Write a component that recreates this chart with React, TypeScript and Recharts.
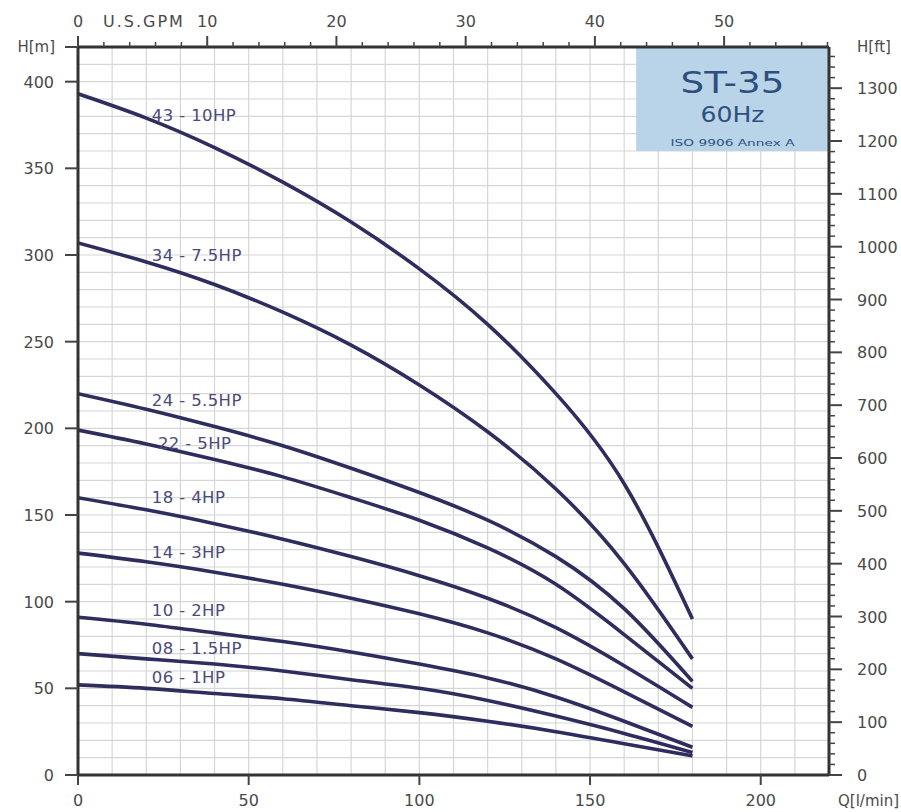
import React from 'react';
import {
  LineChart,
  Line,
  XAxis,
  YAxis,
  CartesianGrid,
  ReferenceArea,
  ReferenceDot,
} from 'recharts';

// Q [l/min] sample points
const flow = [0, 20, 40, 60, 80, 100, 120, 140, 160, 180];

// H [m] for each pump model at the flows above
const st43 = [393, 379, 362, 342, 319, 292, 260, 220, 168, 90];
const st34 = [307, 296, 283, 267, 248, 225, 198, 165, 122, 67];
const st24 = [220, 211, 201, 190, 177, 163, 147, 126, 96, 54];
const st22 = [199, 191, 182, 172, 160, 147, 131, 110, 81, 50];
const st18 = [160, 153, 145, 136, 126, 115, 102, 85, 63, 39];
const st14 = [128, 123, 117, 110, 102, 93, 82, 67, 48, 28];
const st10 = [91, 87, 82, 77, 71, 64, 56, 45, 31, 16];
const st08 = [70, 67, 64, 60, 55, 50, 43, 34, 24, 13];
const st06 = [52, 50, 47, 44, 40, 36, 31, 25, 18, 11];

const curveKeys = ['st43', 'st34', 'st24', 'st22', 'st18', 'st14', 'st10', 'st08', 'st06'];
const curveHeads = [st43, st34, st24, st22, st18, st14, st10, st08, st06];
const curveNames = [
  '43 - 10HP', '34 - 7.5HP', '24 - 5.5HP', '22 - 5HP', '18 - 4HP',
  '14 - 3HP', '10 - 2HP', '08 - 1.5HP', '06 - 1HP',
];
// where each model name sits (Q, H)
const labelFlow = [21.6, 21.6, 21.6, 23.4, 21.6, 21.6, 21.6, 21.6, 21.6];
const labelHead = [381, 300, 216.5, 191.5, 160.5, 128.5, 95, 73, 56.5];

// axes
const Q_MAX = 220;
const H_MAX = 420;
const L_PER_GAL = 3.785411784;
const GPM_MAX = Q_MAX / L_PER_GAL;
const FT_MAX = H_MAX / 0.3048;

const flowTicks = Array.from({ length: 23 }, (_, i) => i * 10);
const headTicks = Array.from({ length: 43 }, (_, i) => i * 10);
const feetTicks = [...Array.from({ length: 69 }, (_, i) => i * 20), FT_MAX];
const gpmTicks = Array.from({ length: 30 }, (_, i) => i * 2);

const data = flow.map((q, i) => {
  const row: Record<string, number> = { q, gpm: q / L_PER_GAL };
  curveKeys.forEach((k, j) => {
    row[k] = curveHeads[j][i];
  });
  return row;
});

const FONT = '"DejaVu Sans", sans-serif';
const TEXT = '#4a4a4a';
const TICK = '#444';
const CURVE = '#2e2d5e';

const BottomTick = ({ x, y, payload }: any) => {
  const v = payload.value;
  if (v === Q_MAX) {
    return (
      <text x={x + 9} y={y + 31} fontFamily={FONT} fontSize={15} fill={TEXT}>
        Q[l/min]
      </text>
    );
  }
  if (v % 50 !== 0) return <g />;
  return (
    <g>
      <line x1={x} y1={y} x2={x} y2={y + 10} stroke={TICK} strokeWidth={2} />
      <text x={x} y={y + 31} textAnchor="middle" fontFamily={FONT} fontSize={16} fill={TEXT}>
        {v}
      </text>
    </g>
  );
};

const TopTick = ({ x, y, payload }: any) => {
  const v = payload.value;
  if (v % 10 !== 0) {
    return <line x1={x} y1={y - 5} x2={x} y2={y} stroke={TICK} strokeWidth={1.5} />;
  }
  return (
    <g>
      <line x1={x} y1={y - 11} x2={x} y2={y} stroke={TICK} strokeWidth={2} />
      <text x={x} y={y - 20} textAnchor="middle" fontFamily={FONT} fontSize={16} fill={TEXT}>
        {v}
      </text>
      {v === 0 && (
        <text x={x + 25} y={y - 20} fontFamily={FONT} fontSize={16} letterSpacing={2} fill={TEXT}>
          U.S.GPM
        </text>
      )}
    </g>
  );
};

const LeftTick = ({ x, y, payload }: any) => {
  const v = payload.value;
  if (v === H_MAX) {
    return (
      <g>
        <line x1={x - 13} y1={y} x2={x} y2={y} stroke={TICK} strokeWidth={2} />
        <text x={x - 23} y={y + 5} textAnchor="end" fontFamily={FONT} fontSize={15} fill={TEXT}>
          H[m]
        </text>
      </g>
    );
  }
  if (v % 50 !== 0) return <g />;
  return (
    <g>
      <line x1={x - 13} y1={y} x2={x} y2={y} stroke={TICK} strokeWidth={2} />
      <text x={x - 24} y={y + 6} textAnchor="end" fontFamily={FONT} fontSize={16} fill={TEXT}>
        {v}
      </text>
    </g>
  );
};

const RightTick = ({ x, y, payload }: any) => {
  const v = payload.value;
  if (v > 1370) {
    return (
      <text x={x + 28} y={y + 5} fontFamily={FONT} fontSize={15} fill={TEXT}>
        H[ft]
      </text>
    );
  }
  if (v % 100 !== 0) {
    return <line x1={x} y1={y} x2={x + 6} y2={y} stroke={TICK} strokeWidth={1.5} />;
  }
  return (
    <g>
      <line x1={x} y1={y} x2={x + 13} y2={y} stroke={TICK} strokeWidth={2} />
      <text x={x + 28} y={y + 6} fontFamily={FONT} fontSize={16} fill={TEXT}>
        {v}
      </text>
    </g>
  );
};

const BoxLabel = (props: any) => {
  const vb = props.viewBox;
  const cx = vb.x + vb.width / 2;
  return (
    <g fill="#2f4f7f" fontFamily={FONT}>
      <text x={cx} y={vb.y + 46} textAnchor="middle" fontSize={30} textLength={104} lengthAdjust="spacingAndGlyphs">
        ST-35
      </text>
      <text x={cx} y={vb.y + 75} textAnchor="middle" fontSize={21} textLength={64} lengthAdjust="spacingAndGlyphs">
        60Hz
      </text>
      <text x={cx} y={vb.y + 99} textAnchor="middle" fontSize={9} textLength={124} lengthAdjust="spacingAndGlyphs">
        ISO 9906 Annex A
      </text>
    </g>
  );
};

const App: React.FC = () => {
  return (
    <div style={{ position: 'absolute', left: 0, top: 0, background: '#fff' }}>
      <LineChart
        width={901}
        height={812}
        data={data}
        margin={{ top: 0, right: 0, bottom: 0, left: 0 }}
      >
        <CartesianGrid xAxisId="q" yAxisId="m" stroke="#d6d6d6" strokeWidth={1.2} />
        <ReferenceArea
          xAxisId="q"
          yAxisId="m"
          x1={163.5}
          x2={Q_MAX}
          y1={360}
          y2={H_MAX}
          fill="#b9d4e8"
          fillOpacity={1}
          stroke="none"
          label={BoxLabel}
        />
        {curveKeys.map(k => (
          <Line
            key={k}
            xAxisId="q"
            yAxisId="m"
            type="natural"
            dataKey={k}
            stroke={CURVE}
            strokeWidth={3.6}
            dot={false}
            activeDot={false}
            isAnimationActive={false}
          />
        ))}
        {curveNames.map((name, i) => (
          <ReferenceDot
            key={name}
            xAxisId="q"
            yAxisId="m"
            x={labelFlow[i]}
            y={labelHead[i]}
            r={0}
            fill="none"
            stroke="none"
            label={(p: any) => (
              <text
                x={p.viewBox.x}
                y={p.viewBox.y + 6}
                fontFamily={FONT}
                fontSize={16.5}
                letterSpacing={0.4}
                fill="#4b4a78"
              >
                {name}
              </text>
            )}
          />
        ))}
        <XAxis
          xAxisId="q"
          type="number"
          dataKey="q"
          orientation="bottom"
          domain={[0, Q_MAX]}
          ticks={flowTicks}
          interval={0}
          height={37}
          tickSize={0}
          tickMargin={0}
          tickLine={false}
          axisLine={{ stroke: '#333', strokeWidth: 3 }}
          tick={BottomTick}
          allowDataOverflow
        />
        <XAxis
          xAxisId="gpm"
          type="number"
          dataKey="gpm"
          orientation="top"
          domain={[0, GPM_MAX]}
          ticks={gpmTicks}
          interval={0}
          height={47}
          tickSize={0}
          tickMargin={0}
          tickLine={false}
          axisLine={{ stroke: '#333', strokeWidth: 3 }}
          tick={TopTick}
          allowDataOverflow
        />
        <YAxis
          yAxisId="m"
          type="number"
          orientation="left"
          domain={[0, H_MAX]}
          ticks={headTicks}
          interval={0}
          width={78}
          tickSize={0}
          tickMargin={0}
          tickLine={false}
          axisLine={{ stroke: '#333', strokeWidth: 3 }}
          tick={LeftTick}
          allowDataOverflow
        />
        <YAxis
          yAxisId="ft"
          type="number"
          orientation="right"
          domain={[0, FT_MAX]}
          ticks={feetTicks}
          interval={0}
          width={72}
          tickSize={0}
          tickMargin={0}
          tickLine={false}
          axisLine={{ stroke: '#333', strokeWidth: 3 }}
          tick={RightTick}
          allowDataOverflow
        />
      </LineChart>
    </div>
  );
};

export default App;
